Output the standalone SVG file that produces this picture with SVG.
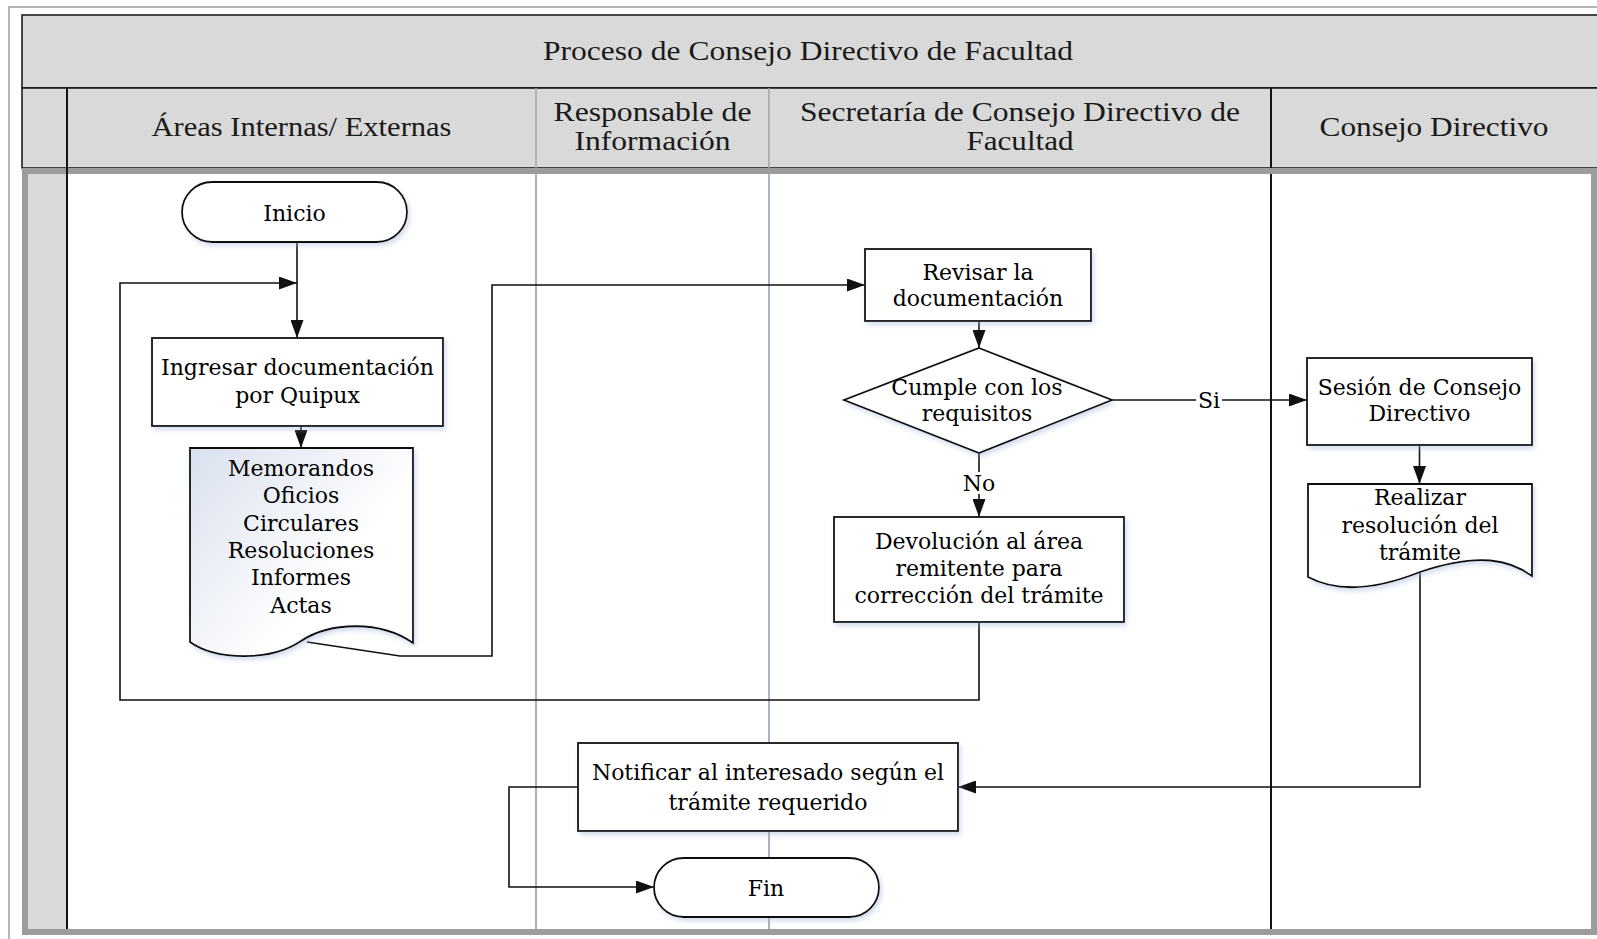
<svg xmlns="http://www.w3.org/2000/svg" width="1597" height="939" viewBox="0 0 1597 939">
  <defs>
    <style>
      .band { fill: #d9d9d9; stroke: #111; stroke-width: 1.5; }
      .hdr { font-family: "Liberation Serif", "Times New Roman", serif; font-size: 27px; fill: #1a1a1a; text-anchor: middle; }
      .node { fill: #ffffff; stroke: #111; stroke-width: 1.8; filter: url(#soft); }
      .lbl { font-family: "DejaVu Serif", "Liberation Serif", serif; font-size: 22px; fill: #000; text-anchor: middle; }
      .wire { fill: none; stroke: #111; stroke-width: 1.6; }
      .lane-soft { stroke: #a9b2bf; stroke-width: 2; }
      .lane-dark { stroke: #111; stroke-width: 2; }
    </style>
    <marker id="arrow" markerUnits="userSpaceOnUse" markerWidth="18" markerHeight="13" refX="18" refY="6.5" orient="auto">
      <path d="M0,0 L18,6.5 L0,13 Z" fill="#111"/>
    </marker>
    <linearGradient id="docFill" x1="0" y1="0" x2="0.7" y2="0.55">
      <stop offset="0" stop-color="#d9e0ee"/>
      <stop offset="1" stop-color="#ffffff"/>
    </linearGradient>
    <filter id="soft" x="-10%" y="-10%" width="125%" height="125%">
      <feDropShadow dx="2" dy="3" stdDeviation="2.5" flood-color="#9db0d4" flood-opacity="0.45"/>
    </filter>
  </defs>

  <rect width="1597" height="939" fill="#ffffff"/>

  <!-- outer page frame -->
  <path d="M9,939 V7 H1597" fill="none" stroke="#b5b5b5" stroke-width="2"/>

  <!-- pool title and lane headers -->
  <g id="pool-header">
    <rect class="band" x="22" y="15" width="1590" height="73"/>
    <rect class="band" x="22" y="88" width="1590" height="80"/>
    <line x1="67" y1="88" x2="67" y2="168" class="lane-dark"/>
    <line x1="536" y1="88" x2="536" y2="168" stroke="#a3a3a3" stroke-width="1.5"/>
    <line x1="769" y1="88" x2="769" y2="168" stroke="#a3a3a3" stroke-width="1.5"/>
    <line x1="1271" y1="88" x2="1271" y2="168" class="lane-dark"/>
    <text class="hdr" x="808" y="60" textLength="530" lengthAdjust="spacingAndGlyphs">Proceso de Consejo Directivo de Facultad</text>
    <text class="hdr" x="301.5" y="136" textLength="300" lengthAdjust="spacingAndGlyphs">Áreas Internas/ Externas</text>
    <text class="hdr" x="652.5" y="121" textLength="198" lengthAdjust="spacingAndGlyphs">Responsable de</text>
    <text class="hdr" x="652.5" y="150" textLength="156" lengthAdjust="spacingAndGlyphs">Información</text>
    <text class="hdr" x="1020" y="121" textLength="440" lengthAdjust="spacingAndGlyphs">Secretaría de Consejo Directivo de</text>
    <text class="hdr" x="1020" y="150" textLength="107" lengthAdjust="spacingAndGlyphs">Facultad</text>
    <text class="hdr" x="1434" y="136" textLength="229" lengthAdjust="spacingAndGlyphs">Consejo Directivo</text>
  </g>

  <!-- pool body with lanes -->
  <g id="pool-body">
    <rect x="25" y="171" width="1569" height="761" fill="#ffffff" stroke="#9c9c9c" stroke-width="6"/>
    <rect x="28" y="174" width="39" height="755" fill="#d9d9d9"/>
    <line x1="67" y1="168" x2="67" y2="929" class="lane-dark"/>
    <line x1="536" y1="174" x2="536" y2="929" class="lane-soft"/>
    <line x1="769" y1="174" x2="769" y2="929" class="lane-soft"/>
    <line x1="1271" y1="174" x2="1271" y2="929" class="lane-dark"/>
  </g>

  <!-- connectors -->
  <g id="connectors">
    <path class="wire" d="M297,242 V338" marker-end="url(#arrow)"/>
    <path class="wire" d="M301,426 V448" marker-end="url(#arrow)"/>
    <path class="wire" d="M307,642 L400,656 H492 V285 H865" marker-end="url(#arrow)"/>
    <path class="wire" d="M979,321 V348" marker-end="url(#arrow)"/>
    <path class="wire" d="M1112,400 H1307" marker-end="url(#arrow)"/>
    <path class="wire" d="M979,453 V517" marker-end="url(#arrow)"/>
    <path class="wire" d="M979,622 V700 H120 V283 H297" marker-end="url(#arrow)"/>
    <path class="wire" d="M1419.5,445 V484" marker-end="url(#arrow)"/>
    <path class="wire" d="M1420,572 V787 H958" marker-end="url(#arrow)"/>
    <path class="wire" d="M578,787 H509 V887 H654" marker-end="url(#arrow)"/>
    <rect x="1196" y="389" width="26" height="22" fill="#ffffff"/>
    <text class="lbl" x="1209" y="408">Si</text>
    <rect x="961" y="472" width="36" height="22" fill="#ffffff"/>
    <text class="lbl" x="979" y="491">No</text>
  </g>

  <g id="inicio">
    <rect class="node" x="182" y="182" width="225" height="60" rx="30"/>
    <text class="lbl" x="294.5" y="221">Inicio</text>
  </g>

  <g id="ingresar">
    <rect class="node" x="152" y="338" width="291" height="88"/>
    <text class="lbl" x="297.5" y="375">Ingresar documentación</text>
    <text class="lbl" x="297.5" y="403">por Quipux</text>
  </g>

  <g id="documentos">
    <path class="node" d="M190,448 H413 V643 C380,620 330,622 301,641 C270,662 215,660 190,642 Z" style="fill:url(#docFill)"/>
    <text class="lbl" x="301" y="476">Memorandos</text>
    <text class="lbl" x="301" y="503">Oficios</text>
    <text class="lbl" x="301" y="531">Circulares</text>
    <text class="lbl" x="301" y="558">Resoluciones</text>
    <text class="lbl" x="301" y="585">Informes</text>
    <text class="lbl" x="301" y="613">Actas</text>
  </g>

  <g id="revisar">
    <rect class="node" x="865" y="249" width="226" height="72"/>
    <text class="lbl" x="978" y="280">Revisar la</text>
    <text class="lbl" x="978" y="306">documentación</text>
  </g>

  <g id="cumple">
    <polygon class="node" points="979,348 1112,400 979,453 844,400"/>
    <text class="lbl" x="977" y="395">Cumple con los</text>
    <text class="lbl" x="977" y="421">requisitos</text>
  </g>

  <g id="devolucion">
    <rect class="node" x="834" y="517" width="290" height="105"/>
    <text class="lbl" x="979" y="549">Devolución al área</text>
    <text class="lbl" x="979" y="576">remitente para</text>
    <text class="lbl" x="979" y="603">corrección del trámite</text>
  </g>

  <g id="sesion">
    <rect class="node" x="1307" y="358" width="225" height="87"/>
    <text class="lbl" x="1419.5" y="395">Sesión de Consejo</text>
    <text class="lbl" x="1419.5" y="421">Directivo</text>
  </g>

  <g id="realizar">
    <path class="node" d="M1308,484 H1532 V576 C1510,560 1480,552 1420,572 C1380,588 1340,594 1308,577 Z"/>
    <text class="lbl" x="1420" y="505">Realizar</text>
    <text class="lbl" x="1420" y="533">resolución del</text>
    <text class="lbl" x="1420" y="560">trámite</text>
  </g>

  <g id="notificar">
    <rect class="node" x="578" y="743" width="380" height="88"/>
    <text class="lbl" x="768" y="780">Notificar al interesado según el</text>
    <text class="lbl" x="768" y="810">trámite requerido</text>
  </g>

  <g id="fin">
    <rect class="node" x="654" y="858" width="225" height="59" rx="29.5"/>
    <text class="lbl" x="766" y="896">Fin</text>
  </g>
</svg>
